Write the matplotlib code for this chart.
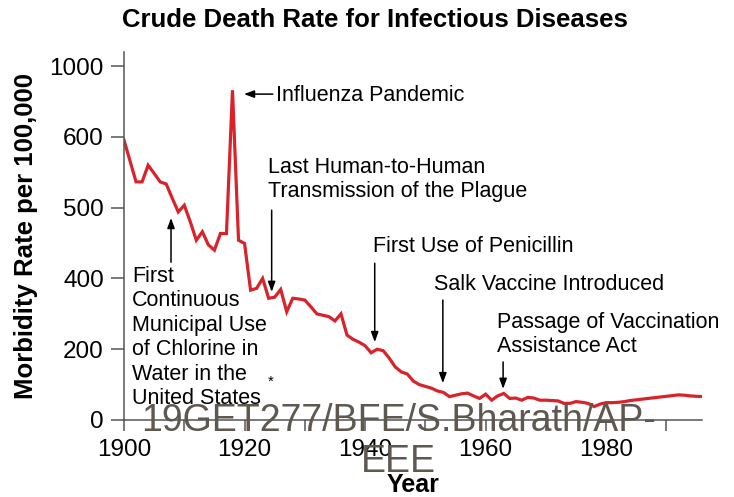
import matplotlib
matplotlib.use("Agg")
import matplotlib.pyplot as plt

# datos (posicion en escala 0-1000 del eje)
years = [1900, 1901, 1902, 1903, 1904, 1905, 1906, 1907, 1908, 1909,
         1910, 1911, 1912, 1913, 1914, 1915, 1916, 1917, 1918, 1919,
         1920, 1921, 1922, 1923, 1924, 1925, 1926, 1927, 1928, 1929,
         1930, 1931, 1932, 1933, 1934, 1935, 1936, 1937, 1938, 1939,
         1940, 1941, 1942, 1943, 1944, 1945, 1946, 1947, 1948, 1949,
         1950, 1951, 1952, 1953, 1954, 1955, 1956, 1957, 1958, 1959,
         1960, 1961, 1962, 1963, 1964, 1965, 1966, 1967, 1968, 1969,
         1970, 1971, 1972, 1973, 1974, 1975, 1976, 1977, 1978, 1979,
         1980, 1981, 1982, 1983, 1984, 1985, 1986, 1987, 1988, 1989,
         1990, 1991, 1992, 1993, 1994, 1995, 1996]
rates = [791, 732, 673, 673, 720, 697, 673, 667, 627, 588,
         607, 560, 508, 532, 495, 480, 527, 527, 932, 508,
         499, 367, 372, 400, 344, 347, 369, 306, 344, 342,
         339, 320, 300, 296, 292, 280, 300, 240, 228, 220,
         210, 190, 200, 196, 175, 150, 136, 130, 110, 100,
         95, 90, 82, 78, 66, 70, 74, 76, 68, 61,
         73, 56, 68, 75, 61, 62, 56, 64, 62, 56,
         56, 55, 54, 47, 47, 52, 50, 47, 38, 45,
         49, 49, 50, 52, 55, 57, 59, 61, 63, 65,
         67, 69, 71, 70, 68, 67, 66]

ytick_pos = [0, 200, 400, 600, 800, 1000]
ytick_labels = ["0", "200", "400", "500", "600", "1000"]
xtick_major = [1900, 1920, 1940, 1960, 1980]
xtick_minor = [1910, 1930, 1950, 1970, 1990]

plt.rcParams['font.family'] = ['Liberation Sans', 'DejaVu Sans']

fig = plt.figure(figsize=(7.34, 4.97), dpi=100)
ax = fig.add_axes([124/734, 1-420/497, (702-124)/734, (420-52)/497])

ax.plot(years, rates, color='#d9232b', lw=2.3, solid_joinstyle='miter')

ax.set_xlim(1900, 1995.9)
ax.set_ylim(0, 1040)
ax.set_yticks(ytick_pos)
ax.set_yticklabels(ytick_labels)
ax.set_xticks(xtick_major)
ax.set_xticks(xtick_minor, minor=True)
ax.tick_params(axis='both', which='both', direction='out', color='#555555', width=1.1, labelsize=17.5)
ax.tick_params(axis='y', length=9.5, pad=5)
ax.tick_params(axis='x', which='both', length=8, pad=6)

for s in ['top', 'right']:
    ax.spines[s].set_visible(False)
for s in ['left', 'bottom']:
    ax.spines[s].set_color('#555555')
    ax.spines[s].set_linewidth(1.1)

ax.set_ylabel("Morbidity Rate per 100,000", fontsize=18.5, fontweight='bold', labelpad=8)
ax.set_xlabel("Year", fontsize=18, fontweight='bold', labelpad=8)
fig.text(375/734, 1-20/497, "Crude Death Rate for Infectious Diseases",
         fontsize=18.5, fontweight='bold', ha='center', va='center')

flecha = dict(arrowstyle='-|>,head_length=0.6,head_width=0.22', color='black', lw=1.1,
              shrinkA=0, shrinkB=0)
fs = 15.5

# Influenza
ax.annotate('', xy=(1919.9, 921), xytext=(1924.7, 921), arrowprops=flecha)
ax.text(1925.3, 918, "Influenza Pandemic", fontsize=fs, ha='left', va='center')

# Plaga
ax.text(1923.9, 680, "Last Human-to-Human\nTransmission of the Plague",
        fontsize=fs, ha='left', va='center', linespacing=1.15)
ax.annotate('', xy=(1924.5, 362), xytext=(1924.5, 593), arrowprops=flecha)

# Cloro
ax.text(1901.3, 233, "First\nContinuous\nMunicipal Use\nof Chlorine in\nWater in the\nUnited States",
        fontsize=fs, ha='left', va='center', linespacing=1.22)
ax.text(1924.4, 108, "*", fontsize=11, ha='center', va='center')
ax.annotate('', xy=(1907.8, 571), xytext=(1907.8, 446), arrowprops=flecha)

# Penicilina
ax.text(1941.3, 489, "First Use of Penicillin", fontsize=fs, ha='left', va='center')
ax.annotate('', xy=(1941.6, 220), xytext=(1941.6, 443), arrowprops=flecha)

# Salk
ax.text(1951.4, 384, "Salk Vaccine Introduced", fontsize=fs, ha='left', va='center')
ax.annotate('', xy=(1952.9, 104), xytext=(1952.9, 339), arrowprops=flecha)

# Vacunacion
ax.text(1961.9, 241.5, "Passage of Vaccination\nAssistance Act",
        fontsize=fs, ha='left', va='center', linespacing=1.15)
ax.annotate('', xy=(1962.9, 88), xytext=(1962.9, 164), arrowprops=flecha)

# marca de agua
fig.text(398/734, 1-441.5/497, "19GET277/BFE/S.Bharath/AP-\nEEE", fontsize=27,
         color='#5e5851', ha='center', va='center', multialignment='center',
         linespacing=1.15)

fig.savefig("out.png", dpi=100)
